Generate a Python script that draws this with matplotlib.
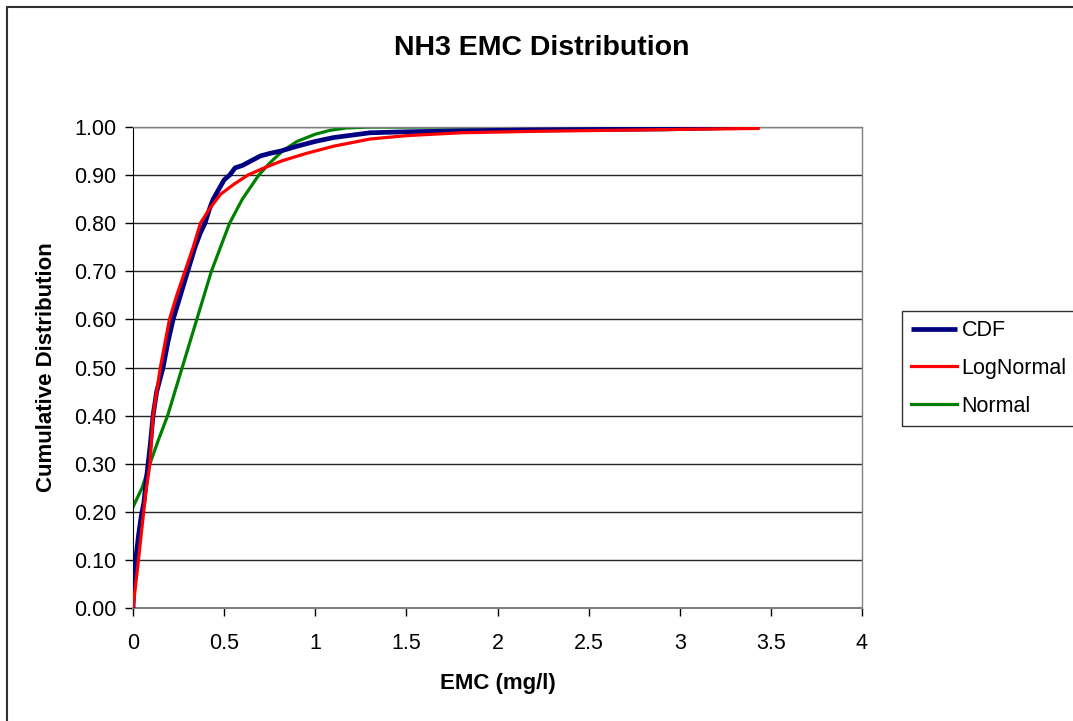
import matplotlib
matplotlib.use("Agg")
import matplotlib.pyplot as plt
from matplotlib.patches import Rectangle

plt.rcParams['font.family'] = ['Liberation Sans', 'DejaVu Sans']

# Empirical CDF
cdf_x = [0.0, 0.005, 0.015, 0.03, 0.045, 0.06, 0.08, 0.095, 0.11, 0.13, 0.165, 0.19, 0.22, 0.26,
         0.30, 0.34, 0.37, 0.395, 0.42, 0.44, 0.47, 0.50, 0.53, 0.56, 0.60, 0.65, 0.70, 0.75,
         0.81, 0.90, 1.00, 1.10, 1.30, 1.50, 1.80, 2.20, 2.60, 2.91, 3.43]
cdf_y = [0.0, 0.05, 0.10, 0.15, 0.19, 0.22, 0.29, 0.34, 0.40, 0.45, 0.50, 0.55, 0.60, 0.65,
         0.70, 0.75, 0.78, 0.80, 0.83, 0.85, 0.87, 0.89, 0.90, 0.915, 0.92, 0.93, 0.94, 0.945,
         0.95, 0.96, 0.97, 0.978, 0.988, 0.990, 0.992, 0.994, 0.995, 0.996, 1.0]

# LogNormal fit
logn_x = [0.0, 0.015, 0.03, 0.05, 0.07, 0.093, 0.11, 0.13, 0.15, 0.175, 0.20, 0.24, 0.285,
          0.33, 0.37, 0.42, 0.48, 0.55, 0.63, 0.72, 0.82, 0.95, 1.10, 1.30, 1.50, 1.80,
          2.20, 2.60, 3.00, 3.43]
logn_y = [0.0, 0.05, 0.10, 0.17, 0.24, 0.30, 0.40, 0.45, 0.50, 0.55, 0.60, 0.65, 0.70,
          0.75, 0.80, 0.83, 0.86, 0.88, 0.90, 0.915, 0.93, 0.945, 0.96, 0.975, 0.982, 0.988,
          0.991, 0.993, 0.995, 0.997]

# Normal fit
norm_x = [0.0, 0.05, 0.093, 0.14, 0.19, 0.23, 0.27, 0.31, 0.35, 0.39, 0.43, 0.48, 0.53,
          0.60, 0.69, 0.75, 0.82, 0.90, 1.00, 1.08, 1.17, 1.30, 1.60, 2.00, 3.43]
norm_y = [0.21, 0.25, 0.30, 0.35, 0.40, 0.45, 0.50, 0.55, 0.60, 0.65, 0.70, 0.75, 0.80,
          0.85, 0.90, 0.925, 0.95, 0.97, 0.985, 0.993, 0.998, 1.0, 1.0, 1.0, 1.0]

x_ticks = [0, 0.5, 1, 1.5, 2, 2.5, 3, 3.5, 4]
x_tick_labels = ['0', '0.5', '1', '1.5', '2', '2.5', '3', '3.5', '4']
y_ticks = [0.0, 0.1, 0.2, 0.3, 0.4, 0.5, 0.6, 0.7, 0.8, 0.9, 1.0]
y_tick_labels = ['%.2f' % v for v in y_ticks]

W, H = 1073, 721
fig = plt.figure(figsize=(W / 100, H / 100), dpi=100)
ax = fig.add_axes([133 / W, 1 - 608 / H, (862 - 133) / W, (608 - 127) / H])

ax.plot(cdf_x, cdf_y, color='#000080', lw=3.4, label='CDF', solid_capstyle='butt', zorder=3)
ax.plot(logn_x, logn_y, color='#FF0000', lw=2.3, label='LogNormal', zorder=4)
ax.plot(norm_x, norm_y, color='#008000', lw=2.3, label='Normal', zorder=2)

ax.set_xlim(0, 4)
ax.set_ylim(0, 1.0)
ax.set_xticks(x_ticks)
ax.set_xticklabels(x_tick_labels)
ax.set_yticks(y_ticks)
ax.set_yticklabels(y_tick_labels)
ax.tick_params(axis='both', direction='out', length=6, width=1, labelsize=15.5, color='black')
ax.tick_params(axis='x', pad=12)
ax.tick_params(axis='y', pad=6)
ax.grid(axis='y', color='black', lw=1, alpha=0.85)
ax.set_axisbelow(True)

for s in ['top', 'right']:
    ax.spines[s].set_color('#808080')
    ax.spines[s].set_linewidth(1)
ax.spines['left'].set_color('black')
ax.spines['bottom'].set_color('#808080')
ax.spines['bottom'].set_linewidth(1.5)

ax.set_xlabel('EMC (mg/l)', fontsize=16, fontweight='bold', labelpad=14)
ax.set_ylabel('Cumulative Distribution', fontsize=16, fontweight='bold', labelpad=12)
fig.text(542 / W, 1 - 48 / H, 'NH3 EMC Distribution', ha='center', va='center',
         fontsize=20.5, fontweight='bold')

leg = ax.legend(loc='upper left', bbox_to_anchor=(902 / W, 1 - 311 / H), bbox_transform=fig.transFigure,
                fontsize=15.5, frameon=True, fancybox=False, edgecolor='black', handlelength=2.15,
                handletextpad=0.2, borderpad=0.42, labelspacing=0.78, borderaxespad=0)
leg.get_frame().set_linewidth(1)

fig.patches.append(Rectangle((6.5 / W, -0.05), 1.1, 1.05 - 7.5 / H, transform=fig.transFigure,
                             fill=False, edgecolor='#303030', lw=1.5, clip_on=False))

fig.savefig('out.png', dpi=100)
